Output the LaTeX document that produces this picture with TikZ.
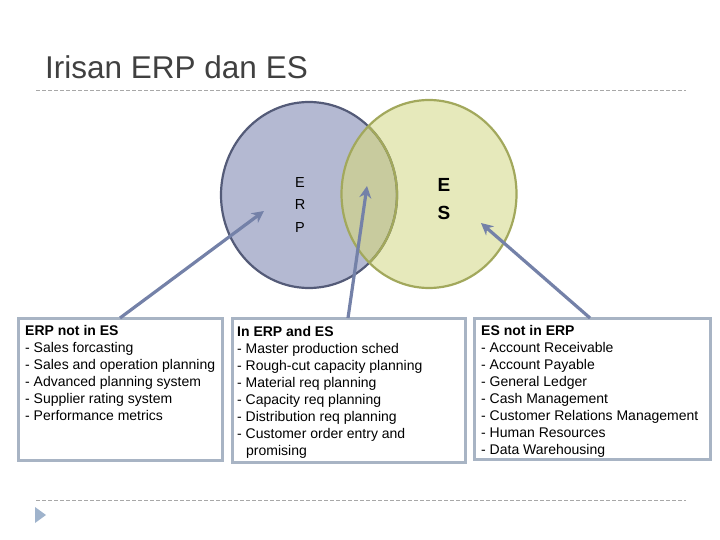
\documentclass[tikz,border=0pt]{standalone}
\usepackage{fontspec}
\setmainfont{Liberation Sans}
\usetikzlibrary{arrows.meta}
\definecolor{erpfill}{HTML}{B4B9D2}
\definecolor{erpline}{HTML}{545B78}
\definecolor{esfill}{HTML}{E6E9BB}
\definecolor{esline}{HTML}{A2A85C}
\definecolor{ovfill}{HTML}{C8CB9E}
\definecolor{arrowc}{HTML}{7481A8}
\definecolor{boxc}{HTML}{A8B4C4}
\definecolor{dashc}{HTML}{A8A8A8}
\definecolor{titlec}{HTML}{404040}
\definecolor{triac}{HTML}{9FB3CC}
\tikzset{
  boxframe/.style={draw=boxc, line width=3pt, fill=white},
  infotext/.style={anchor=north west, align=left, font=\fontsize{14}{17}\selectfont, inner sep=0pt},
  pointer/.style={draw=arrowc, line width=3.2pt, -{Stealth[length=12pt,width=12pt]}},
  sepline/.style={draw=dashc, line width=0.8pt, dash pattern=on 4pt off 2pt},
}
\begin{document}
\begin{tikzpicture}[x=1pt,y=-1pt]
\useasboundingbox (0,0) rectangle (720,540);
% title
\node[anchor=base west, inner sep=0pt, text=titlec, font=\fontsize{31.5}{36}\selectfont] (title) at (45,79) {Irisan ERP dan ES};
\draw[sepline] (36,90) -- (686,90);
\draw[sepline] (36,500) -- (686,500);
\fill[triac] (35,507) -- (46,515) -- (35,523) -- cycle;
% circles
\fill[erpfill] (309,195) ellipse [x radius=88, y radius=93];
\fill[esfill] (429,194) ellipse [x radius=87.5, y radius=94];
\begin{scope}
\clip (309,195) ellipse [x radius=88, y radius=93];
\fill[ovfill] (429,194) ellipse [x radius=87.5, y radius=94];
\end{scope}
\draw[erpline, line width=2.2pt] (309,195) ellipse [x radius=88, y radius=93];
\begin{scope}
\clip (429,194) ellipse [x radius=87.5, y radius=94];
\draw[esline, line width=2.4pt] (309,195) ellipse [x radius=88, y radius=93];
\end{scope}
\draw[esline, line width=2.2pt] (429,194) ellipse [x radius=87.5, y radius=94];
% circle labels
\node[align=center, font=\fontsize{14.5}{22.5}\selectfont, inner sep=0pt] (erplab) at (300,205) {E\\R\\P};
\node[align=center, font=\bfseries\fontsize{19}{28}\selectfont, inner sep=0pt] (eslab) at (444,199) {E\\S};
% boxes
\draw[boxframe] (18,318) rectangle (222,460);
\node[inner sep=0pt] (box1) at (120,318) {};
\draw[boxframe] (232,318) rectangle (465,462);
\node[inner sep=0pt] (box2) at (348,318) {};
\draw[boxframe] (474,318) rectangle (710,459);
\node[inner sep=0pt] (box3) at (590,318) {};
\node[infotext] (t1) at (25,325) {\textbf{ERP not in ES}\\- Sales forcasting\\- Sales and operation planning\\- Advanced planning system\\- Supplier rating system\\- Performance metrics};
\node[infotext] (t2) at (237,326.5) {\textbf{In ERP and ES}\\- Master production sched\\- Rough-cut capacity planning\\- Material req planning\\- Capacity req planning\\- Distribution req planning\\- Customer order entry and\\\hspace*{9pt}promising};
\node[infotext] (t3) at (481,325.5) {\textbf{ES not in ERP}\\- Account Receivable\\- Account Payable\\- General Ledger\\- Cash Management\\- Customer Relations Management\\- Human Resources\\- Data Warehousing};
% arrows
\coordinate (tip1) at (264,211);
\coordinate (tip2) at (367,186);
\coordinate (tip3) at (481,223);
\draw[pointer] (box1.center) -- (tip1);
\draw[pointer] (box2.center) -- (tip2);
\draw[pointer] (box3.center) -- (tip3);
\end{tikzpicture}
\end{document}
